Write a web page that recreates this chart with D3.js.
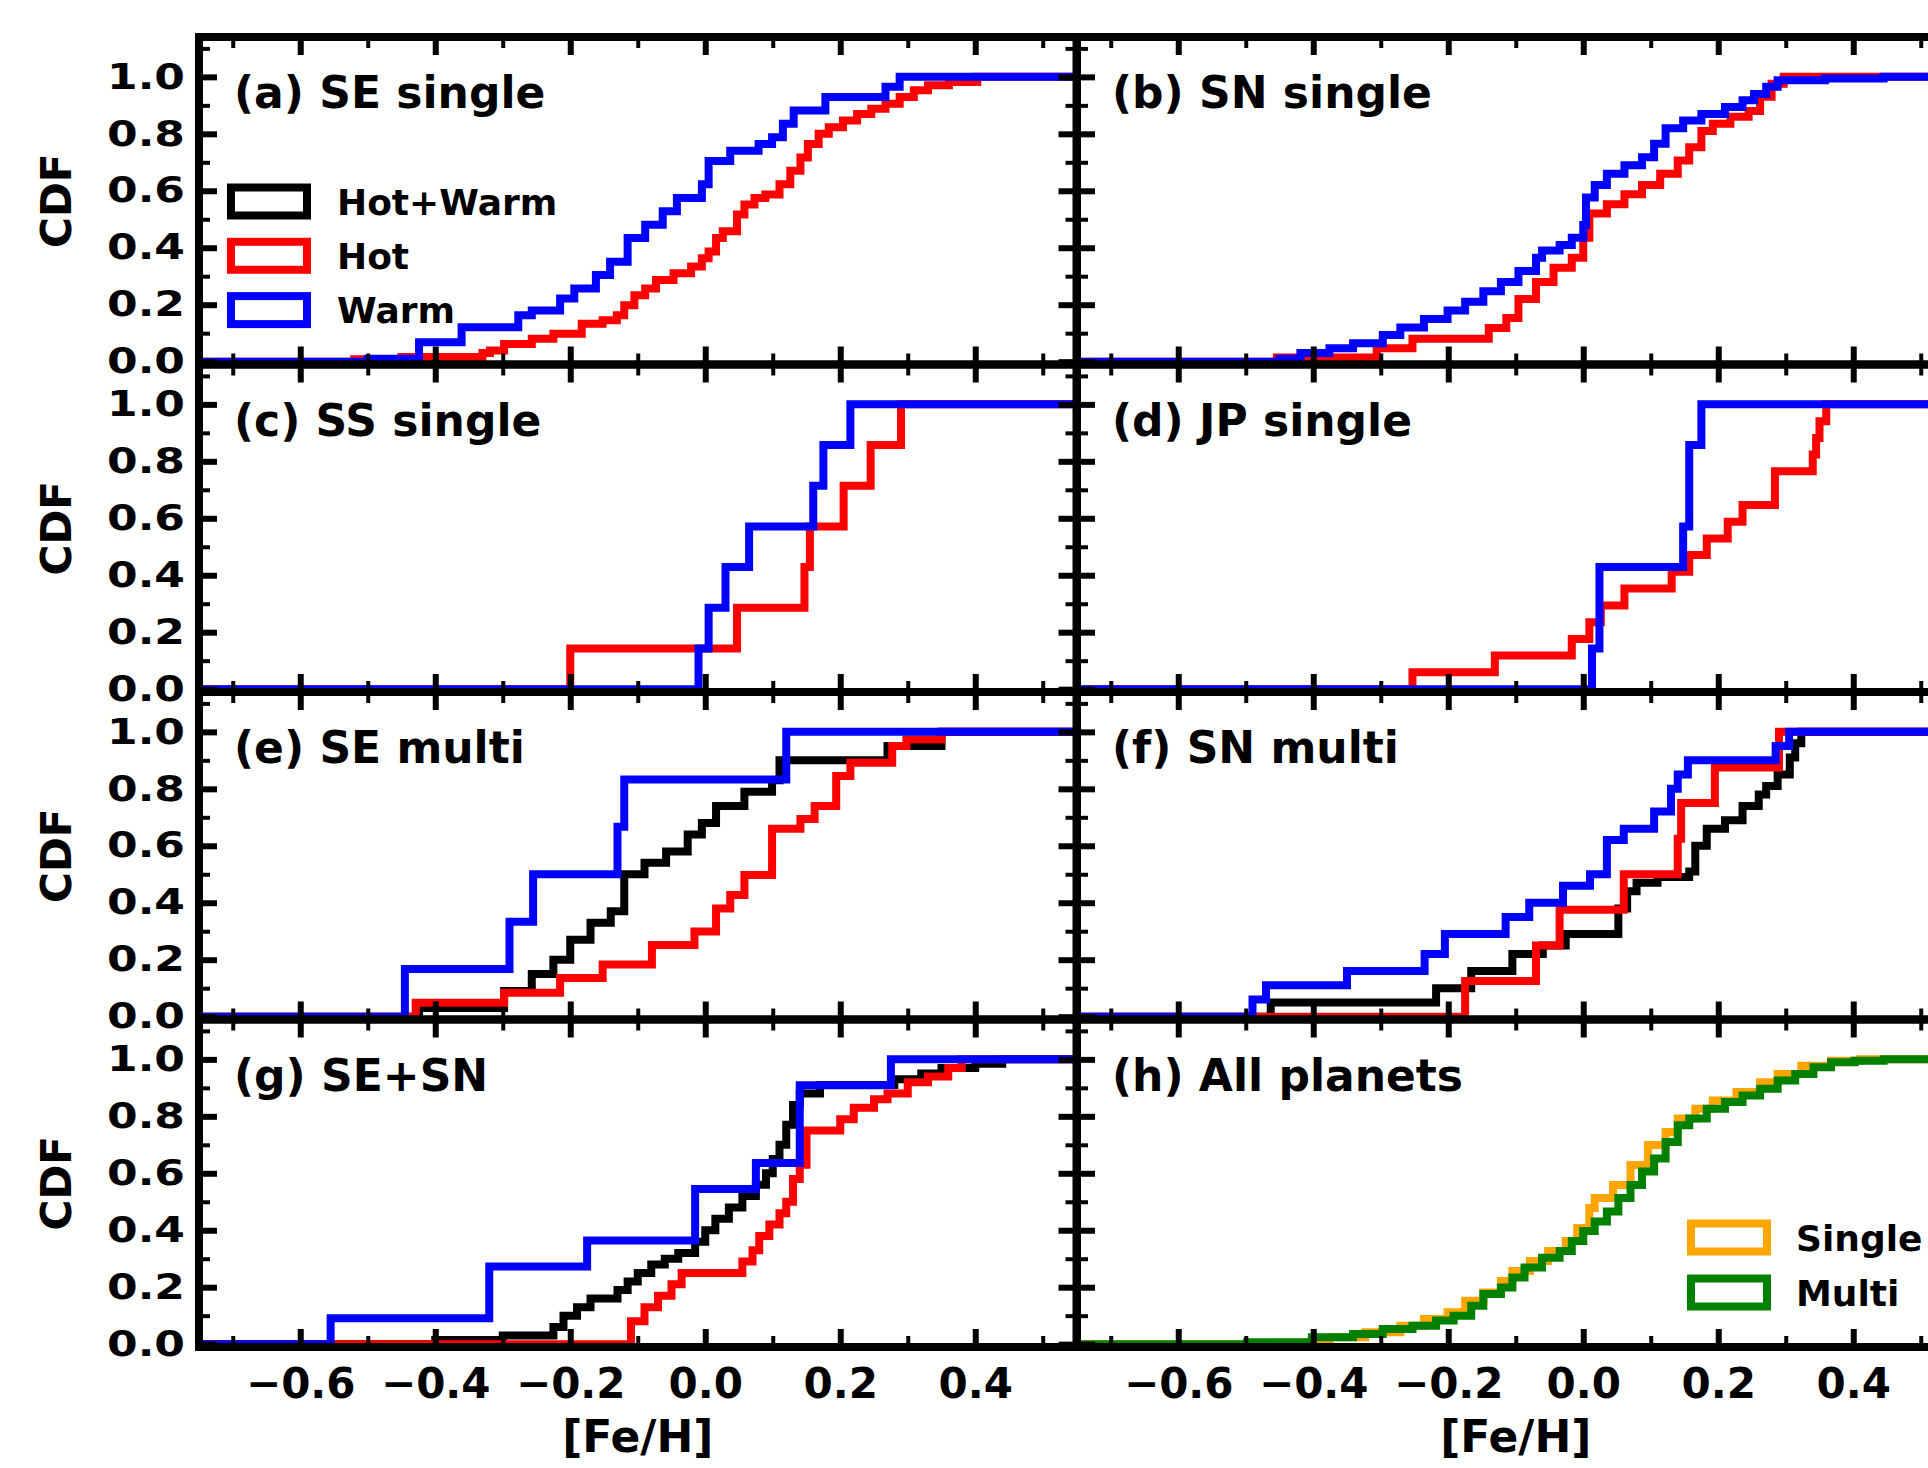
<!DOCTYPE html>
<html><head><meta charset="utf-8">
<script src="https://cdn.jsdelivr.net/npm/d3@7"></script>
<style>html,body{margin:0;padding:0;background:#fff;overflow:hidden}</style>
</head><body>
<svg id="chart" width="1928" height="1468"></svg>
<script>
// ---------------- DATA ----------------
const panelLabels = ["(a) SE single","(b) SN single","(c) SS single","(d) JP single","(e) SE multi","(f) SN multi","(g) SE+SN","(h) All planets"];
const xTickValues = [-0.6,-0.4,-0.2,0.0,0.2,0.4];
const xTickLabels = ["\u22120.6","\u22120.4","\u22120.2","0.0","0.2","0.4"];
const xMinorTicks = [-0.7,-0.5,-0.3,-0.1,0.1,0.3,0.5];
const yTickValues = [0,0.2,0.4,0.6,0.8,1.0];
const yTickLabels = ["0.0","0.2","0.4","0.6","0.8","1.0"];
const yMinorTicks = [0.1,0.3,0.5,0.7,0.9,1.1];
const legendNames1 = ["Hot+Warm","Hot","Warm"];
const legendNames2 = ["Single","Multi"];

// (a) SE single
const aHotX  = [-0.52,-0.45,-0.33,-0.319,-0.298,-0.257,-0.225,-0.183,-0.152,-0.131,-0.120,-0.105,-0.089,-0.073,-0.047,-0.021,-0.005,0.005,0.016,0.026,0.047,0.058,0.073,0.089,0.110,0.126,0.141,0.152,0.168,0.183,0.204,0.225,0.246,0.267,0.288,0.309,0.330,0.361,0.403];
const aHotY  = [0.008,0.016,0.030,0.039,0.062,0.080,0.098,0.133,0.145,0.163,0.198,0.233,0.257,0.287,0.310,0.334,0.363,0.387,0.434,0.458,0.517,0.552,0.575,0.587,0.623,0.670,0.717,0.764,0.800,0.823,0.847,0.870,0.888,0.906,0.929,0.953,0.971,0.982,1.0];
const aWarmX = [-0.50,-0.424,-0.361,-0.277,-0.257,-0.215,-0.194,-0.162,-0.141,-0.115,-0.089,-0.063,-0.042,-0.005,0.005,0.037,0.079,0.099,0.115,0.131,0.178,0.267,0.288];
const aWarmY = [0.010,0.068,0.121,0.163,0.180,0.222,0.257,0.304,0.351,0.434,0.481,0.528,0.575,0.623,0.705,0.741,0.764,0.788,0.835,0.882,0.929,0.965,1.0];

// (b) SN single
const bHotX  = [-0.454,-0.306,-0.253,-0.140,-0.114,-0.096,-0.070,-0.044,-0.017,0.0,0.009,0.035,0.061,0.087,0.114,0.140,0.157,0.175,0.192,0.218,0.245,0.262,0.279,0.297];
const bHotY  = [0.015,0.047,0.080,0.118,0.153,0.220,0.280,0.330,0.365,0.435,0.520,0.553,0.588,0.620,0.660,0.706,0.753,0.810,0.835,0.860,0.880,0.930,0.976,1.0];
const bWarmX = [-0.45,-0.419,-0.376,-0.341,-0.297,-0.271,-0.236,-0.201,-0.175,-0.148,-0.122,-0.096,-0.070,-0.061,-0.035,-0.017,0.0,0.004,0.017,0.035,0.061,0.087,0.105,0.122,0.148,0.175,0.210,0.236,0.253,0.271,0.288,0.358,0.445];
const bWarmY = [0.010,0.030,0.047,0.065,0.094,0.120,0.150,0.180,0.210,0.247,0.280,0.318,0.365,0.390,0.410,0.435,0.480,0.576,0.620,0.660,0.690,0.718,0.765,0.820,0.847,0.870,0.894,0.918,0.940,0.965,0.988,0.994,1.0];

// (c) SS single
const cHotX  = [-0.20,0.047,0.147,0.155,0.205,0.245,0.29];
const cHotY  = [0.143,0.286,0.429,0.571,0.714,0.857,1.0];
const cWarmX = [-0.01,0.005,0.03,0.065,0.16,0.175,0.215];
const cWarmY = [0.143,0.286,0.429,0.571,0.714,0.857,1.0];

// (d) JP single
const dHotX  = [-0.253,-0.131,-0.017,0.009,0.026,0.061,0.131,0.157,0.183,0.214,0.236,0.284,0.34,0.345,0.35,0.36];
const dHotY  = [0.059,0.118,0.176,0.235,0.294,0.353,0.412,0.471,0.529,0.588,0.647,0.765,0.824,0.882,0.941,1.0];
const dWarmX = [0.013,0.024,0.148,0.157,0.175];
const dWarmY = [0.143,0.429,0.571,0.857,1.0];

// (e) SE multi
const eAllX  = [-0.424,-0.298,-0.257,-0.225,-0.20,-0.17,-0.14,-0.12,-0.09,-0.058,-0.026,-0.005,0.016,0.058,0.099,0.11,0.27,0.35];
const eAllY  = [0.03,0.09,0.15,0.20,0.27,0.33,0.37,0.50,0.54,0.58,0.64,0.68,0.74,0.79,0.83,0.90,0.95,1.0];
const eHotX  = [-0.429,-0.298,-0.215,-0.152,-0.079,-0.016,0.016,0.037,0.058,0.099,0.141,0.162,0.194,0.215,0.277,0.298,0.35];
const eHotY  = [0.049,0.084,0.136,0.183,0.252,0.299,0.38,0.427,0.497,0.66,0.694,0.74,0.845,0.892,0.95,0.973,1.0];
const eWarmX = [-0.445,-0.29,-0.255,-0.13,-0.12,0.12];
const eWarmY = [0.167,0.333,0.5,0.667,0.833,1.0];

// (f) SN multi
const fAllX  = [-0.463,-0.218,-0.166,-0.105,-0.06,-0.026,0.052,0.065,0.079,0.11,0.157,0.166,0.183,0.21,0.236,0.26,0.271,0.288,0.306,0.314,0.323];
const fAllY  = [0.05,0.10,0.16,0.22,0.25,0.29,0.38,0.44,0.47,0.49,0.51,0.60,0.66,0.69,0.74,0.78,0.81,0.85,0.91,0.96,1.0];
const fHotX  = [-0.175,-0.07,-0.035,0.06,0.14,0.145,0.195,0.29];
const fHotY  = [0.125,0.25,0.375,0.5,0.625,0.75,0.875,1.0];
const fWarmX = [-0.49,-0.47,-0.35,-0.235,-0.205,-0.115,-0.08,-0.03,0.01,0.035,0.06,0.105,0.13,0.14,0.155,0.285,0.305];
const fWarmY = [0.06,0.11,0.16,0.22,0.29,0.35,0.40,0.46,0.50,0.62,0.66,0.72,0.80,0.85,0.90,0.95,1.0];

// (g) SE+SN
const gAllX  = [-0.40,-0.30,-0.225,-0.21,-0.19,-0.17,-0.13,-0.115,-0.10,-0.08,-0.06,-0.04,-0.015,0.0,0.015,0.035,0.055,0.075,0.09,0.10,0.11,0.12,0.13,0.14,0.17,0.28,0.32,0.35,0.40,0.44];
const gAllY  = [0.015,0.03,0.06,0.10,0.13,0.16,0.19,0.22,0.25,0.28,0.30,0.32,0.36,0.40,0.44,0.48,0.52,0.56,0.60,0.65,0.70,0.77,0.84,0.88,0.91,0.93,0.95,0.97,0.985,1.0];
const gHotX  = [-0.11,-0.09,-0.07,-0.05,-0.035,0.055,0.07,0.08,0.095,0.11,0.12,0.13,0.14,0.15,0.20,0.22,0.25,0.27,0.30,0.33,0.36,0.38];
const gHotY  = [0.08,0.13,0.17,0.21,0.25,0.29,0.33,0.38,0.42,0.46,0.50,0.58,0.63,0.75,0.79,0.83,0.86,0.88,0.92,0.94,0.97,1.0];
const gWarmX = [-0.555,-0.32,-0.175,-0.015,0.075,0.14,0.275];
const gWarmY = [0.091,0.273,0.364,0.545,0.636,0.909,1.0];

// (h) All planets
const hSingleX = [-0.454,-0.376,-0.323,-0.271,-0.236,-0.201,-0.175,-0.148,-0.122,-0.105,-0.079,-0.052,-0.026,-0.009,0.009,0.017,0.044,0.07,0.096,0.122,0.14,0.166,0.192,0.227,0.262,0.288,0.323,0.367,0.41];
const hSingleY = [0.007,0.024,0.042,0.065,0.088,0.112,0.152,0.181,0.222,0.257,0.292,0.327,0.362,0.408,0.478,0.513,0.559,0.629,0.699,0.745,0.792,0.827,0.856,0.885,0.92,0.949,0.978,0.995,1.0];
const hMultiX  = [-0.498,-0.402,-0.341,-0.297,-0.253,-0.218,-0.192,-0.166,-0.148,-0.122,-0.105,-0.087,-0.061,-0.035,-0.017,0.0,0.017,0.035,0.052,0.07,0.087,0.105,0.122,0.14,0.157,0.183,0.21,0.236,0.262,0.288,0.314,0.341,0.367,0.402,0.445];
const hMultiY  = [0.007,0.024,0.036,0.053,0.065,0.083,0.10,0.135,0.176,0.199,0.234,0.269,0.303,0.327,0.362,0.397,0.431,0.466,0.513,0.559,0.606,0.652,0.71,0.769,0.792,0.827,0.85,0.873,0.897,0.926,0.949,0.972,0.99,0.995,1.0];

const colors = {all:"#000000", hot:"#ff0000", warm:"#0000ff", single:"#ffa500", multi:"#008000"};

const panels = [
  {series:[{x:aHotX,y:aHotY,c:colors.hot},{x:aWarmX,y:aWarmY,c:colors.warm}]},
  {series:[{x:bHotX,y:bHotY,c:colors.hot},{x:bWarmX,y:bWarmY,c:colors.warm}]},
  {series:[{x:cHotX,y:cHotY,c:colors.hot},{x:cWarmX,y:cWarmY,c:colors.warm}]},
  {series:[{x:dHotX,y:dHotY,c:colors.hot},{x:dWarmX,y:dWarmY,c:colors.warm}]},
  {series:[{x:eAllX,y:eAllY,c:colors.all},{x:eHotX,y:eHotY,c:colors.hot},{x:eWarmX,y:eWarmY,c:colors.warm}]},
  {series:[{x:fAllX,y:fAllY,c:colors.all},{x:fHotX,y:fHotY,c:colors.hot},{x:fWarmX,y:fWarmY,c:colors.warm}]},
  {series:[{x:gAllX,y:gAllY,c:colors.all},{x:gHotX,y:gHotY,c:colors.hot},{x:gWarmX,y:gWarmY,c:colors.warm}]},
  {series:[{x:hSingleX,y:hSingleY,c:colors.single},{x:hMultiX,y:hMultiY,c:colors.multi}]}
];

// ---------------- LAYOUT ----------------
const FONT = "'DejaVu Sans', sans-serif";
const colX = [199, 1077];
const panelW = 877.5;
const rowY = [37, 364.5, 692, 1019.5];
const panelH = 327.5;
const xDomain = [-0.75, 0.55];
const yDomain = [-0.01, 1.14];
const lineW = 8, spineW = 8;
const majLen = 18, minLen = 11;

const svg = d3.select("#chart");
svg.append("rect").attr("width",1928).attr("height",1468).attr("fill","#fff");
const defs = svg.append("defs");

panels.forEach((p, i) => {
  const col = i % 2, row = Math.floor(i / 2);
  const x0 = colX[col], y0 = rowY[row];
  const x = d3.scaleLinear().domain(xDomain).range([x0, x0 + panelW]);
  const y = d3.scaleLinear().domain(yDomain).range([y0 + panelH, y0]);
  const g = svg.append("g");

  defs.append("clipPath").attr("id", "clip" + i)
    .append("rect").attr("x", x0).attr("y", y0).attr("width", panelW).attr("height", panelH);

  const line = d3.line().x(d => x(d[0])).y(d => y(d[1])).curve(d3.curveStepAfter);
  const lg = g.append("g").attr("clip-path", "url(#clip" + i + ")");
  p.series.forEach(s => {
    const pts = [[xDomain[0] - 0.3, 0]].concat(s.x.map((v, k) => [v, s.y[k]])).concat([[xDomain[1] + 0.3, s.y[s.y.length - 1]]]);
    lg.append("path").attr("d", line(pts)).attr("fill", "none")
      .attr("stroke", s.c).attr("stroke-width", lineW).attr("stroke-linejoin", "miter");
  });

  // ticks (inward on all sides)
  const tickGroup = (axis, tx, ty, vals, len, w) => {
    g.append("g").attr("transform", `translate(${tx},${ty})`)
      .call(axis.tickValues(vals).tickSize(-len).tickFormat(""))
      .call(a => a.select(".domain").remove())
      .call(a => a.selectAll("line").attr("stroke", "#000").attr("stroke-width", w));
  };
  [[majLen, 6, xTickValues, yTickValues], [minLen, 4, xMinorTicks, yMinorTicks]].forEach(([len, w, xv, yv]) => {
    tickGroup(d3.axisBottom(x), 0, y0 + panelH, xv, len, w);
    tickGroup(d3.axisTop(x), 0, y0, xv, len, w);
    tickGroup(d3.axisLeft(y), x0, 0, yv, len, w);
    tickGroup(d3.axisRight(y), x0 + panelW, 0, yv, len, w);
  });

  // spines
  g.append("rect").attr("x", x0).attr("y", y0).attr("width", panelW).attr("height", panelH)
    .attr("fill", "none").attr("stroke", "#000").attr("stroke-width", spineW);

  // panel label
  g.append("text").attr("x", x0 + 35).attr("y", y0 + 71)
    .attr("font-family", FONT).attr("font-weight", "bold").attr("font-size", 44)
    .text(panelLabels[i]);

  // y tick labels + CDF label (left column)
  if (col === 0) {
    g.append("g").attr("transform", `translate(${x0},0)`)
      .call(d3.axisLeft(y).tickValues(yTickValues).tickSize(0).tickPadding(14)
        .tickFormat((d, k) => yTickLabels[k]))
      .call(a => a.select(".domain").remove())
      .call(a => a.selectAll("text").attr("font-family", FONT).attr("font-weight", "bold")
        .attr("font-size", 35).attr("textLength", 78).attr("lengthAdjust", "spacingAndGlyphs")
        .attr("fill", "#000"));
    g.append("text").attr("transform", `translate(56,${y0 + panelH / 2}) rotate(-90)`)
      .attr("text-anchor", "middle").attr("dy", "0.36em")
      .attr("font-family", FONT).attr("font-weight", "bold").attr("font-size", 42)
      .text("CDF");
  }
  // x tick labels + xlabel (bottom row)
  if (row === 3) {
    g.append("g").attr("transform", `translate(0,${y0 + panelH})`)
      .call(d3.axisBottom(x).tickValues(xTickValues).tickSize(0).tickPadding(21)
        .tickFormat((d, k) => xTickLabels[k]))
      .call(a => a.select(".domain").remove())
      .call(a => a.selectAll("text").attr("font-family", FONT).attr("font-weight", "bold")
        .attr("font-size", 42).attr("fill", "#000"));
    g.append("text").attr("x", x0 + panelW / 2).attr("y", 1452)
      .attr("text-anchor", "middle")
      .attr("font-family", FONT).attr("font-weight", "bold").attr("font-size", 44)
      .text("[Fe/H]");
  }
});

// legends
function legend(items, colorsArr, rx, cy0, dy, tx) {
  const lg = svg.append("g");
  items.forEach((name, k) => {
    const cy = cy0 + k * dy;
    lg.append("rect").attr("x", rx).attr("y", cy - 14).attr("width", 76).attr("height", 28)
      .attr("fill", "#fff").attr("stroke", colorsArr[k]).attr("stroke-width", 8);
    lg.append("text").attr("x", tx).attr("y", cy + 13)
      .attr("font-family", FONT).attr("font-weight", "bold").attr("font-size", 36)
      .text(name);
  });
}
legend(legendNames1, [colors.all, colors.hot, colors.warm], 231, 201.5, 54.3, 337);
legend(legendNames2, [colors.single, colors.multi], 1691, 1237.5, 55, 1796);
</script>
</body></html>
